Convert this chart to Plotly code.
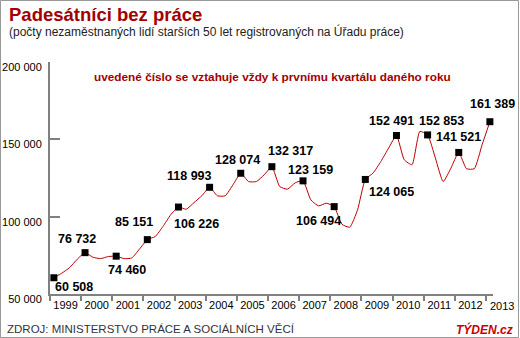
import plotly.graph_objects as go

# ---- data ----
years = list(range(1999, 2014))
year_labels = [str(y) for y in years]
q1_values = [60508, 76732, 74460, 85151, 106226, 118993, 128074, 132317,
             123159, 106494, 124065, 152491, 152853, 141521, 161389]
q1_labels = ["60 508", "76 732", "74 460", "85 151", "106 226", "118 993", "128 074",
             "132 317", "123 159", "106 494", "124 065", "152 491", "152 853",
             "141 521", "161 389"]
# quarterly values (Q1..Q4 per year), last value Q1 2013
quarterly_values = [
    60508, 63400, 67000, 72500,      # 1999
    76732, 73800, 72900, 74200,      # 2000
    74460, 72900, 73300, 79100,      # 2001
    85151, 87100, 93600, 101200,     # 2002
    106226, 104800, 109100, 113500,  # 2003
    118993, 113500, 113500, 120600,  # 2004
    128074, 122700, 122700, 127000,  # 2005
    132317, 119500, 117800, 121900,  # 2006
    123159, 110900, 107000, 108700,  # 2007
    106494, 95100, 93200, 104400,    # 2008
    124065, 128200, 135700, 144400,  # 2009
    152491, 136800, 133600, 155100,  # 2010
    152853, 137900, 122700, 131400,  # 2011
    141521, 131000, 131000, 146500,  # 2012
    161389,                          # 2013
]
y_tickvals = [50000, 100000, 150000, 200000]
y_ticktext = ["50 000", "100 000", "150 000", "200 000"]

# label offsets in pixels (style only)
label_dx = [20, -8, 11, -13, 18, -20, -3, 19, 7, -16, 26, -5, 14, 0, 3]
label_dy = [-9, 14, -14, 18, -17, 11, 13, 16, 11, -14, -13, 14, 14, 15, 18]

FONT = "Liberation Sans, Arial, sans-serif"
RED = "#c00000"
DARKRED = "#a30000"

q_x = [1999 + i / 4 + 0.125 for i in range(len(quarterly_values))]
q1_x = [y + 0.125 for y in years]

fig = go.Figure()
fig.add_trace(go.Scatter(
    x=q_x, y=quarterly_values, mode="lines",
    line=dict(color=RED, width=1, shape="spline", smoothing=0.5),
    hoverinfo="skip", cliponaxis=False,
))
fig.add_trace(go.Scatter(
    x=q1_x, y=q1_values, mode="markers",
    marker=dict(symbol="square", size=7, color="black"),
    cliponaxis=False,
))

W, H = 520, 338
L, R, T, B = 50, 27, 62, 44
pw, ph = W - L - R, H - T - B
XMIN, XMAX = 1999, 2013.225
year_px = pw / (XMAX - XMIN)

annotations = []
for x, v, t, dx, dy in zip(q1_x, q1_values, q1_labels, label_dx, label_dy):
    annotations.append(dict(
        x=x, y=v, xref="x", yref="y", text="<b>%s</b>" % t, showarrow=False,
        xshift=dx, yshift=dy, font=dict(family=FONT, size=12.5, color="black"),
    ))
# last year label (centred half a year after the last year tick, beyond axis end)
annotations.append(dict(
    x=years[-1], y=0, xref="x", yref="paper", text=year_labels[-1],
    showarrow=False, xanchor="center", yanchor="middle",
    xshift=0.5 * year_px, yshift=-12,
    font=dict(family=FONT, size=11, color="black"),
))


def px(xp):
    return (xp - L) / pw


def py(yp):
    return (H - B - yp) / ph


annotations += [
    dict(x=px(7), y=py(14), xref="paper", yref="paper", xanchor="left", yanchor="middle",
         text="<b>Padesátníci bez práce</b>", showarrow=False,
         font=dict(family=FONT, size=18.5, color=DARKRED)),
    dict(x=px(7), y=py(31), xref="paper", yref="paper", xanchor="left", yanchor="middle",
         text="(počty nezaměstnaných lidí starších 50 let registrovaných na Úřadu práce)",
         showarrow=False, font=dict(family=FONT, size=12, color="#222222")),
    dict(x=px(272), y=py(77), xref="paper", yref="paper", xanchor="center", yanchor="middle",
         text="<b>uvedené číslo se vztahuje vždy k prvnímu kvartálu daného roku</b>",
         showarrow=False, font=dict(family=FONT, size=11.8, color=DARKRED)),
    dict(x=px(5), y=py(329), xref="paper", yref="paper", xanchor="left", yanchor="middle",
         text="ZDROJ: MINISTERSTVO PRÁCE A SOCIÁLNÍCH VĚCÍ",
         showarrow=False, font=dict(family=FONT, size=11.5, color="#333333")),
    dict(x=px(515), y=py(329), xref="paper", yref="paper", xanchor="right", yanchor="middle",
         text="<b><i>TÝDEN.cz</i></b>",
         showarrow=False, font=dict(family=FONT, size=12, color="#cc0000")),
]

fig.update_layout(
    width=W, height=H, autosize=False,
    margin=dict(l=L, r=R, t=T, b=B, pad=0, autoexpand=False),
    paper_bgcolor="white", plot_bgcolor="white",
    showlegend=False,
    annotations=annotations,
    shapes=[dict(type="rect", xref="paper", yref="paper",
                 x0=px(0.5), x1=px(518.5), y0=py(337.5), y1=py(0.5),
                 line=dict(color="#999999", width=1), fillcolor="rgba(0,0,0,0)",
                 layer="below")],
    xaxis=dict(
        range=[XMIN, XMAX], showgrid=False, zeroline=False, automargin=False,
        showline=True, linecolor="#808080", linewidth=2,
        tickmode="array", tickvals=[y + 0.5 for y in years[:-1]], ticktext=year_labels[:-1],
        ticks="outside", ticklen=0, tickcolor="#808080",
        ticklabelstandoff=0,
        tickfont=dict(family=FONT, size=11, color="black"),
        minor=dict(tickmode="array", tickvals=years, ticks="outside", ticklen=5,
                   tickwidth=2, tickcolor="#808080", showgrid=False),
    ),
    yaxis=dict(
        range=[50000, 200000], showgrid=False, zeroline=False, automargin=False,
        showline=True, linecolor="#808080", linewidth=2,
        tickmode="array", tickvals=y_tickvals, ticktext=y_ticktext,
        ticks="inside", ticklen=10, tickwidth=2, tickcolor="#808080",
        ticklabelstandoff=4, ticklabelshift=5,
        tickfont=dict(family=FONT, size=11, color="black"),
    ),
)

fig.write_html("out.html")
